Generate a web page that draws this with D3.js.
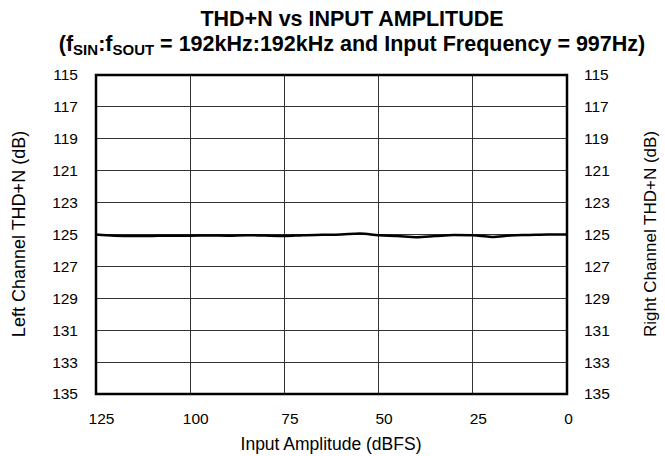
<!DOCTYPE html>
<html>
<head>
<meta charset="utf-8">
<script src="https://cdn.jsdelivr.net/npm/d3@7"></script>
<style>
  html, body { margin: 0; padding: 0; background: #fff; }
  svg { display: block; font-family: "Liberation Sans", Arial, Helvetica, sans-serif; }
</style>
</head>
<body>
<svg id="chart" width="665" height="456"></svg>
<script>
// Input amplitude (dBFS) and measured THD+N (dB)
const amplitude = [125, 120, 115, 110, 105, 100, 95, 90, 85, 80, 75, 70, 65, 60, 55, 50, 45, 40, 35, 30, 25, 20, 15, 10, 5, 0];
const thdn = [125.0, 125.08, 125.1, 125.09, 125.08, 125.08, 125.06, 125.08, 125.04, 125.07, 125.09, 125.04, 125.02, 125.0, 124.94, 125.05, 125.1, 125.17, 125.1, 125.03, 125.05, 125.15, 125.06, 125.03, 125.0, 125.0];
const xTicks = [125, 100, 75, 50, 25, 0];
const yTicks = [115, 117, 119, 121, 123, 125, 127, 129, 131, 133, 135];

const svg = d3.select("#chart");
const m = { left: 96, right: 567, top: 75, bottom: 394 };

const x = d3.scaleLinear().domain([125, 0]).range([m.left, m.right]);
const y = d3.scaleLinear().domain([115, 135]).range([m.top, m.bottom]);

// title, two lines
svg.append("text").attr("x", 352).attr("y", 26).attr("text-anchor", "middle")
  .attr("font-weight", "bold").attr("font-size", 21.5).text("THD+N vs INPUT AMPLITUDE");
const t2 = svg.append("text").attr("x", 352).attr("y", 51).attr("text-anchor", "middle")
  .attr("font-weight", "bold").attr("font-size", 21.5);
t2.append("tspan").text("(f");
t2.append("tspan").attr("font-size", 15).attr("dy", 4).text("SIN");
t2.append("tspan").attr("dy", -4).text(":f");
t2.append("tspan").attr("font-size", 15).attr("dy", 4).text("SOUT");
t2.append("tspan").attr("dy", -4).text(" = 192kHz:192kHz and Input Frequency = 997Hz)");

// grid
const grid = svg.append("g");
grid.selectAll(".h").data(yTicks).enter().append("line")
  .attr("x1", m.left).attr("x2", m.right)
  .attr("y1", d => y(d)).attr("y2", d => y(d))
  .attr("stroke", "#333").attr("stroke-width", 1).attr("shape-rendering", "crispEdges");
grid.selectAll(".v").data(xTicks).enter().append("line")
  .attr("y1", m.top).attr("y2", m.bottom)
  .attr("x1", d => x(d)).attr("x2", d => x(d))
  .attr("stroke", "#333").attr("stroke-width", 1).attr("shape-rendering", "crispEdges");

// axes (labels only)
const fs = 15.5;
const leftAxis = d3.axisLeft(y).tickValues(yTicks).tickSize(0).tickPadding(18);
const gl = svg.append("g").attr("transform", `translate(${m.left},0)`).call(leftAxis);
const rightAxis = d3.axisRight(y).tickValues(yTicks).tickSize(0).tickPadding(17);
const gr = svg.append("g").attr("transform", `translate(${m.right},0)`).call(rightAxis);
const bottomAxis = d3.axisBottom(x).tickValues(xTicks).tickSize(0).tickPadding(19);
const gb = svg.append("g").attr("transform", `translate(0,${m.bottom})`).call(bottomAxis);
[gl, gr, gb].forEach(g => {
  g.select(".domain").remove();
  g.selectAll("text").attr("font-size", fs).attr("font-family", "Liberation Sans, Arial, sans-serif").attr("fill", "#000");
});
gb.selectAll("text").attr("dx", d => d === 0 ? 1 : 5);

// frame
svg.append("rect").attr("x", m.left).attr("y", m.top)
  .attr("width", m.right - m.left).attr("height", m.bottom - m.top)
  .attr("fill", "none").attr("stroke", "#000").attr("stroke-width", 2.5);

// data line
const line = d3.line().x((d, i) => x(amplitude[i])).y(d => y(d)).curve(d3.curveMonotoneX);
svg.append("path").datum(thdn).attr("d", line)
  .attr("fill", "none").attr("stroke", "#000").attr("stroke-width", 2.5);

// axis titles
svg.append("text").attr("x", 331).attr("y", 450).attr("text-anchor", "middle")
  .attr("font-size", 17.5).text("Input Amplitude (dBFS)");
svg.append("text").attr("transform", `translate(25,234) rotate(-90)`).attr("text-anchor", "middle")
  .attr("font-size", 18).text("Left Channel THD+N (dB)");
svg.append("text").attr("transform", `translate(656,234) rotate(-90)`).attr("text-anchor", "middle")
  .attr("font-size", 17).text("Right Channel THD+N (dB)");
</script>
</body>
</html>
